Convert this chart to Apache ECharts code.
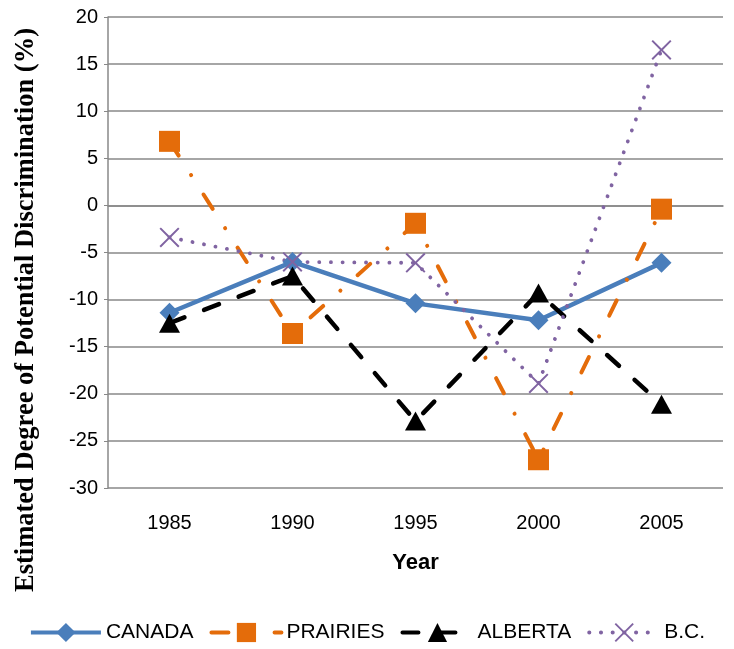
<!DOCTYPE html>
<html>
<head>
<meta charset="utf-8">
<script src="https://cdn.jsdelivr.net/npm/echarts@6/dist/echarts.min.js"></script>
<style>
html,body{margin:0;padding:0;background:#fff;}
#main{width:734px;height:649px;}
</style>
</head>
<body>
<div id="main"></div>
<script>
var years = ['1985', '1990', '1995', '2000', '2005'];
var canada = [-11.4, -6.0, -10.4, -12.2, -6.1];
var prairies = [6.8, -13.6, -1.9, -27.0, -0.4];
var alberta = [-12.5, -7.5, -22.9, -9.3, -21.1];
var bc = [-3.4, -6.0, -6.1, -18.9, 16.5];

var crossPath = 'path://M0,0.7L0.7,0L5,4.3L9.3,0L10,0.7L5.7,5L10,9.3L9.3,10L5,5.7L0.7,10L0,9.3L4.3,5Z';

window.onload = function(){
	var myChart = echarts.init(document.getElementById('main'));
	myChart.setOption({
		animation: false,
		grid: {
			left: 108,
			right: 11,
			top: 17,
			bottom: 161
		},
		legend: {
			bottom: 1,
			left: 'center',
			itemWidth: 70,
			itemHeight: 24,
			itemGap: 16,
			lineStyle: {width: 4},
			textStyle: {
				fontFamily: 'Liberation Sans',
				fontSize: 21,
				color: '#000'
			},
			data: ['CANADA', 'PRAIRIES', 'ALBERTA', 'B.C.']
		},
		graphic: [{
			type: 'text',
			left: 13,
			top: 28,
			rotation: Math.PI / 2,
			style: {
				text: 'Estimated Degree of Potential Discrimination (%)',
				font: 'bold 26.5px "Liberation Serif"',
				fill: '#000'
			}
		}],
		xAxis: {
			type: 'category',
			data: years,
			name: 'Year',
			nameLocation: 'middle',
			nameGap: 64,
			nameTextStyle: {
				fontFamily: 'Liberation Sans',
				fontWeight: 'bold',
				fontSize: 22,
				color: '#000'
			},
			axisLine: {lineStyle: {color: '#888', width: 1.5}},
			axisTick: {show: false},
			axisLabel: {
				margin: 25,
				fontFamily: 'Liberation Sans',
				fontSize: 20,
				color: '#000'
			}
		},
		yAxis: {
			type: 'value',
			min: -30,
			max: 20,
			interval: 5,
			axisLine: {show: true, lineStyle: {color: '#888', width: 1.5}},
			axisTick: {show: true, length: 4, lineStyle: {color: '#888'}},
			splitLine: {lineStyle: {color: '#888', width: 1.5}},
			axisLabel: {
				margin: 10,
				fontFamily: 'Liberation Sans',
				fontSize: 20,
				color: '#000'
			}
		},
		series: [{
			name: 'CANADA',
			type: 'line',
			data: canada,
			symbol: 'diamond',
			symbolSize: 20,
			itemStyle: {color: '#4a7ebb'},
			lineStyle: {color: '#4a7ebb', width: 4.5}
		}, {
			name: 'PRAIRIES',
			type: 'line',
			data: prairies,
			symbol: 'rect',
			symbolSize: 21,
			itemStyle: {color: '#e46c0a'},
			lineStyle: {color: '#e46c0a', width: 4, type: [17, 23, 0.1, 23], cap: 'round'}
		}, {
			name: 'ALBERTA',
			type: 'line',
			data: alberta,
			symbol: 'triangle',
			symbolSize: [21, 19],
			itemStyle: {color: '#000'},
			lineStyle: {color: '#000', width: 4.5, type: [16, 21], cap: 'round'}
		}, {
			name: 'B.C.',
			type: 'line',
			data: bc,
			symbol: crossPath,
			symbolSize: 20,
			itemStyle: {color: '#8064a2'},
			lineStyle: {color: '#8064a2', width: 3.8, type: [0.1, 11.6], cap: 'round'}
		}]
	});
};
</script>
</body>
</html>
